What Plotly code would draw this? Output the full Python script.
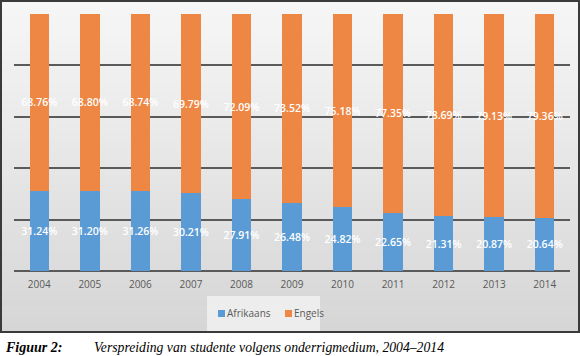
import plotly.graph_objects as go

years = ["2004", "2005", "2006", "2007", "2008", "2009", "2010", "2011", "2012", "2013", "2014"]
afrikaans = [31.24, 31.20, 31.26, 30.21, 27.91, 26.48, 24.82, 22.65, 21.31, 20.87, 20.64]
engels = [68.76, 68.80, 68.74, 69.79, 72.09, 73.52, 75.18, 77.35, 78.69, 79.13, 79.36]
y_ticks = [0, 20, 40, 60, 80, 100]
series_names = ["Afrikaans", "Engels"]
series_colors = ["#5b9bd5", "#ee8744"]
caption_label = "Figuur 2:"
caption_text = "Verspreiding van studente volgens onderrigmedium, 2004\u20132014"

W, H = 580, 356
ML, MR, MT, MB = 14, 10, 14, 85
pw, ph = W - ML - MR, H - MT - MB


def px_x(px):
    return (px - ML) / pw


def px_y(py):
    return (H - MB - py) / ph


fig = go.Figure()
label_font = dict(color="white", size=10.5, family="Open Sans", weight=600)
for name, vals, col in zip(series_names, [afrikaans, engels], series_colors):
    fig.add_trace(go.Bar(
        x=years, y=vals, name=name, marker=dict(color=col, line_width=0),
        text=vals, texttemplate="%{y:.2f}%", textposition="inside",
        insidetextanchor="middle", textangle=0, constraintext="none",
        textfont=label_font, cliponaxis=False, showlegend=False,
    ))

# gradient background inside the chart frame
top, bottom = 1, 332
n = 40
c0, c1 = 246, 214
shapes = []
for i in range(n):
    y0 = top + (bottom - top) * i / n
    y1 = top + (bottom - top) * (i + 1) / n + 0.6
    c = round(c0 + (c1 - c0) * i / (n - 1))
    shapes.append(dict(type="rect", xref="paper", yref="paper", layer="below",
                       x0=px_x(1), x1=px_x(579), y0=px_y(y1), y1=px_y(y0),
                       fillcolor=f"rgb({c},{c},{c})", line_width=0))
# legend background
shapes.append(dict(type="rect", xref="paper", yref="paper", layer="below",
                   x0=px_x(207), x1=px_x(320), y0=px_y(331), y1=px_y(296),
                   fillcolor="rgba(240,240,240,0.9)", line_width=0))
shapes.append(dict(type="rect", xref="paper", yref="paper", layer="above",
                   x0=px_x(1), x1=px_x(579), y0=px_y(332), y1=px_y(1),
                   fillcolor="rgba(0,0,0,0)", line=dict(color="#3a3a3a", width=2)))

legend_x = [218, 285]
annotations = []
for name, col, lx in zip(series_names, series_colors, legend_x):
    shapes.append(dict(type="rect", xref="paper", yref="paper", layer="above",
                       x0=px_x(lx), x1=px_x(lx + 7), y0=px_y(317), y1=px_y(310),
                       fillcolor=col, line_width=0))
    annotations.append(dict(
        text=name, xref="paper", yref="paper",
        x=px_x(lx + 7), y=px_y(313), xanchor="left", yanchor="middle", showarrow=False,
        font=dict(family="Open Sans", size=10, color="#595959")))
annotations += [
    dict(text=f"<b><i>{caption_label}</i></b>", xref="paper", yref="paper",
         x=px_x(3), y=px_y(347), xanchor="left", yanchor="middle", showarrow=False,
         font=dict(family="Liberation Serif", size=14, color="black")),
    dict(text=f"<i>{caption_text}</i>", xref="paper", yref="paper",
         x=px_x(92), y=px_y(347), xanchor="left", yanchor="middle", showarrow=False,
         font=dict(family="Liberation Serif", size=13.7, color="black")),
]

fig.update_layout(
    width=W, height=H,
    margin=dict(l=ML, r=MR, t=MT, b=MB),
    barmode="stack", bargap=0.614,
    paper_bgcolor="white", plot_bgcolor="rgba(0,0,0,0)",
    shapes=shapes,
    showlegend=False,
    xaxis=dict(type="category", showgrid=False, showline=False, ticks="",
               ticklabelstandoff=6,
               tickfont=dict(size=10, color="#595959", family="Open Sans")),
    yaxis=dict(range=[0, 100], tickvals=y_ticks, showticklabels=False, showgrid=True,
               gridcolor="#5a5a5a", gridwidth=2, zeroline=True, zerolinecolor="#5a5a5a",
               zerolinewidth=2, showline=False),
    annotations=annotations,
)

fig.write_html("out.html", config={"displayModeBar": False},
               post_script="document.body.style.margin='0';document.body.style.padding='0';")
